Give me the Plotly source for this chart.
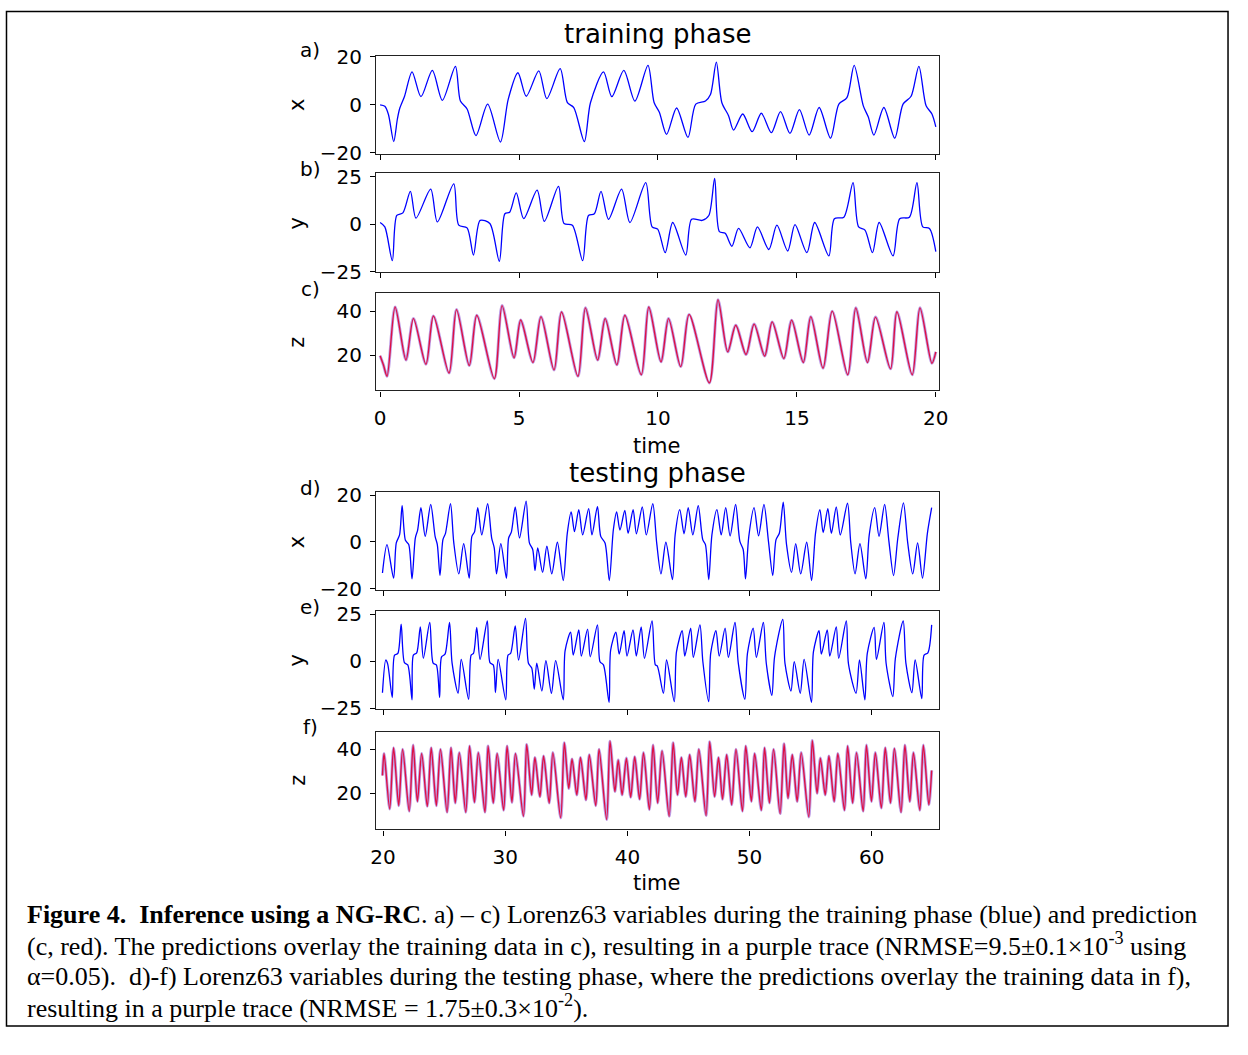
import plotly.graph_objects as go

# ---------------- training phase (t = 0 .. 20) ----------------
train_x_t = [0.0, 0.17, 0.30, 0.49, 0.62, 0.70, 0.88, 1.15, 1.47, 1.88, 2.24, 2.71, 2.89, 3.13, 3.45, 3.87,
             4.33, 4.61, 4.96, 5.26, 5.71, 6.0, 6.48, 6.74, 6.97, 7.35, 7.57, 8.04, 8.34, 8.77, 9.17, 9.64,
             9.86, 10.05, 10.31, 10.67, 11.08, 11.36, 11.71, 11.89, 12.10, 12.30, 12.54, 12.72, 13.05, 13.39,
             13.72, 14.08, 14.41, 14.75, 15.09, 15.44, 15.80, 16.21, 16.51, 16.80, 17.06, 17.39, 17.57, 17.77,
             18.13, 18.52, 18.82, 19.11, 19.39, 19.65, 19.86, 20.0]
train_x = [0.0, -0.6, -4.0, -15.3, -6.0, -1.7, 3.6, 13.8, 3.4, 14.4, 1.9, 16.1, 1.6, -1.7, -12.8, 0.3,
           -15.5, 2.3, 13.4, 3.6, 14.2, 2.6, 15.1, 0.9, -1.1, -15.3, 0.9, 13.8, 3.4, 14.4, 1.6, 16.5,
           1.0, -3.1, -12.3, -1.3, -13.6, 0.3, 1.6, 4.3, 17.8, 0.9, -4.5, -10.5, -3.8, -11.2,
           -3.5, -11.6, -2.8, -11.9, -2.0, -12.6, -1.1, -13.9, 0.3, 3.0, 16.5, -0.4, -5.1, -12.6,
           -1.1, -13.9, 0.3, 3.6, 16.1, -0.4, -3.8, -9.2]

train_y_t = [0.0, 0.17, 0.44, 0.60, 0.82, 1.09, 1.29, 1.82, 2.06, 2.65, 2.83, 3.13, 3.36, 3.60, 3.95, 4.29,
             4.49, 4.66, 4.90, 5.17, 5.65, 5.91, 6.42, 6.62, 6.92, 7.29, 7.50, 7.71, 7.95, 8.22, 8.69, 8.99,
             9.56, 9.79, 9.99, 10.26, 10.53, 11.0, 11.21, 11.59, 11.83, 12.04, 12.21, 12.42, 12.66, 12.90,
             13.31, 13.58, 13.99, 14.28, 14.67, 14.93, 15.36, 15.64, 16.15, 16.35, 16.69, 17.02, 17.22,
             17.45, 17.72, 17.96, 18.46, 18.70, 19.05, 19.32, 19.53, 19.77, 20.0]
train_y = [0.9, -1.4, -19.2, 4.6, 6.0, 17.3, 3.2, 18.5, 1.2, 21.3, -0.5, -1.9, -16.2, 2.0, 0.4, -19.5,
           5.5, 6.3, 16.5, 2.9, 17.9, 1.5, 19.9, 0.4, -0.5, -19.2, 4.6, 5.5, 17.3, 2.6, 18.5, 0.9,
           21.9, -1.4, -2.6, -15.0, 0.9, -16.2, 2.6, 2.0, 4.6, 24.1, -3.9, -4.8, -11.6, -2.2,
           -12.4, -1.4, -13.3, -0.5, -14.1, -0.2, -15.0, 0.9, -16.7, 2.9, 3.7, 21.9, -1.4,
           -3.1, -15.0, 0.9, -16.7, 2.9, 3.7, 21.9, -1.4, -2.2, -14.4]

train_z_t = [0.0, 0.12, 0.25, 0.54, 0.93, 1.20, 1.65, 1.92, 2.48, 2.75, 3.21, 3.48, 4.11, 4.39, 4.82, 5.06,
             5.50, 5.79, 6.26, 6.53, 7.12, 7.39, 7.83, 8.10, 8.52, 8.81, 9.40, 9.67, 10.11, 10.38, 10.82,
             11.12, 11.85, 12.16, 12.51, 12.80, 13.17, 13.46, 13.84, 14.11, 14.53, 14.81, 15.23, 15.50,
             15.94, 16.27, 16.83, 17.12, 17.54, 17.83, 18.37, 18.60, 19.15, 19.43, 19.86, 20.0]
train_z = [19.7, 15.5, 10.4, 41.9, 17.8, 36.6, 15.9, 37.8, 11.9, 40.7, 15.3, 38.1, 9.3, 42.5, 18.8, 36.0,
           16.7, 37.5, 13.3, 39.6, 10.4, 41.5, 17.8, 36.6, 15.6, 38.1, 11.1, 41.9, 17.0, 36.6, 14.8,
           38.5, 7.4, 45.2, 21.5, 33.6, 20.3, 34.1, 19.6, 35.1, 18.5, 35.9, 16.7, 37.5,
           14.1, 40.0, 11.1, 41.5, 16.7, 37.3, 13.8, 39.7, 11.1, 41.5, 16.3, 21.5]

# ---------------- testing phase (t = 20 .. 65) ----------------
test_x_t = [19.95, 20.32, 20.86, 21.08, 21.35, 21.56, 21.83, 22.1, 22.37, 22.64, 22.83, 23.1, 23.45, 23.9,
            24.26, 24.44, 24.66, 24.9, 25.11, 25.52, 25.79, 26.2, 26.6, 27.05, 27.27, 27.49, 27.75, 28.08,
            28.56, 28.89, 29.1, 29.29, 29.64, 30.1, 30.28, 30.5, 30.82, 31.17, 31.71, 31.98, 32.25, 32.44,
            32.66, 33.06, 33.41, 33.81, 34.27, 34.75, 35.08, 35.4, 35.67, 36.02, 36.34, 36.83, 37.1, 37.55,
            37.82, 38.17, 38.52, 38.85, 39.12, 39.39, 39.79, 40.06, 40.47, 40.74, 41.22, 41.55, 42.08,
            42.4, 42.75, 43.15, 43.69, 43.91, 44.29, 44.64, 44.98, 45.36, 45.8, 46.17, 46.39, 46.66,
            46.92, 47.33, 47.68, 48.05, 48.41, 48.86, 49.21, 49.48, 49.67, 49.94, 50.37, 50.74, 51.18,
            51.55, 51.9, 52.17, 52.44, 52.76, 53.03, 53.44, 53.78, 54.19, 54.68, 55.08, 55.4, 55.76,
            56.03, 56.41, 56.7, 57.1, 57.43, 58.02, 58.29, 58.64, 59.04, 59.52, 59.8, 60.25, 60.6, 61.06,
            61.41, 61.79, 62.14, 62.6, 62.95, 63.36, 63.76, 64.16, 64.56, 64.91]
test_x = [-13.2, -1.1, -15.4, -0.4, 3.0, 15.5, 0.7, -1.1, -15.7, 1.7, 5.1, 14.6, 2.4, 16.0,
          2.4, -1.1, -14.3, 1.0, 3.7, 16.3, -0.4, -13.6, -0.7, -15.4, 2.4, 4.4, 14.6, 3.0,
          16.3, 1.7, -2.5, -13.6, -0.7, -15.4, 1.7, 4.2, 14.9, 1.7, 17.4, -0.4, -3.2, -12.2,
          -2.5, -12.9, -1.8, -13.6, -0.1, -16.4, 3.7, 12.8, 4.4, 13.8, 3.0, 14.2, 3.0, 15.1,
          2.4, -0.4, -16.4, 5.1, 12.8, 5.1, 13.5, 3.7, 13.8, 3.5, 14.9, 3.0, 16.3,
          -0.4, -13.6, -0.1, -16.0, 3.0, 13.8, 3.5, 14.6, 3.0, 15.5, 1.0, -1.1, -16.0,
          3.0, 13.8, 3.0, 14.6, 2.6, 16.0, 0.3, -3.2, -15.7, 2.4, 14.6, 2.6, 16.0,
          0.3, -14.3, 1.0, 3.7, 17.0, -1.1, -12.9, -0.7, -13.6, -0.1, -16.4, 3.7, 13.8,
          4.0, 14.2, 3.7, 14.9, 3.0, 16.5, -0.4, -13.6, -0.7, -15.7, 3.0, 14.6, 2.4, 16.0,
          0.3, -14.3, 1.7, 16.7, -0.4, -13.6, -0.4, -15.4, 3.7, 14.6]

test_y_t = [19.95, 20.22, 20.38, 20.75, 20.94, 21.21, 21.48, 21.75, 22.02, 22.37, 22.48, 22.75, 23.05, 23.3,
            23.82, 24.1, 24.36, 24.63, 24.79, 25.07, 25.44, 25.65, 26.14, 26.4, 27.0, 27.21, 27.4, 27.67,
            27.94, 28.53, 28.75, 29.02, 29.2, 29.42, 30.04, 30.23, 30.44, 30.82, 31.09, 31.66, 31.9,
            32.17, 32.38, 32.58, 33.0, 33.33, 33.78, 34.13, 34.75, 34.9, 35.35, 35.57, 36.02, 36.23,
            36.74, 36.96, 37.55, 37.76, 38.04, 38.5, 38.63, 39.06, 39.33, 39.73, 39.97, 40.46, 40.73,
            41.13, 41.4, 42.02, 42.29, 42.45, 42.95, 43.21, 43.84, 44.02, 44.49, 44.7, 45.18, 45.4,
            45.94, 46.18, 46.66, 46.82, 47.25, 47.52, 48.0, 48.27, 48.81, 49.08, 49.62, 49.83, 50.3,
            50.56, 51.13, 51.37, 51.83, 52.05, 52.72, 52.9, 53.39, 53.66, 54.15, 54.47, 55.07, 55.23,
            55.69, 55.88, 56.36, 56.57, 57.1, 57.3, 57.92, 58.1, 58.72, 59.0, 59.44, 59.64, 60.2, 60.39,
            61.0, 61.18, 61.73, 61.94, 62.58, 62.8, 63.29, 63.56, 64.1, 64.29, 64.6, 64.91]
test_y = [-16.7, 0.7, -1.5, -19.3, 3.3, 4.2, 19.8, -0.7, -1.9, -20.5, 3.3, 4.5, 18.4, 1.6,
          20.7, -1.0, -1.9, -19.3, 2.4, 3.8, 20.7, -1.0, -17.0, 1.0, -20.2, 3.3, 4.2, 18.1,
          1.0, 21.5, -0.7, -1.9, -16.7, 1.0, -20.5, 3.3, 4.2, 18.9, 0.7, 22.9, -1.0,
          -3.6, -14.9, -1.0, -15.8, 0.4, -17.0, 0.4, -20.5, 5.6, 15.5, 3.3, 16.7, 2.8,
          17.2, 2.4, 19.4, -0.2, -1.9, -21.9, 5.9, 15.5, 3.8, 16.3, 2.8, 16.7, 2.8,
          18.4, 1.6, 21.5, -1.9, -2.5, -17.0, 0.7, -21.5, 5.0, 16.3, 2.8, 17.7, 2.1,
          19.4, -0.2, -21.5, 4.2, 16.3, 2.8, 17.7, 2.1, 20.7, -1.0, -20.2, 4.2, 17.7,
          2.1, 20.7, -1.0, -18.1, 2.4, 22.4, -1.0, -15.8, -0.2, -17.0, 1.0, -21.9, 5.0,
          16.3, 3.8, 16.7, 2.8, 18.4, 1.6, 21.5, -1.4, -17.0, 0.7, -20.5, 4.2, 18.1, 1.0,
          20.7, -1.0, -18.8, 1.6, 21.5, -1.0, -16.7, 0.7, -19.8, 3.3, 4.5, 19.4]

test_z_t = [19.95, 20.08, 20.54, 20.86, 21.28, 21.6, 22.14, 22.46, 22.81, 23.16, 23.62, 23.94, 24.36, 24.7,
            25.24, 25.56, 25.91, 26.24, 26.77, 27.08, 27.48, 27.8, 28.34, 28.6, 29.02, 29.34, 29.87, 30.15,
            30.55, 30.84, 31.49, 31.76, 32.16, 32.43, 32.84, 33.14, 33.6, 33.9, 34.54, 34.84, 35.2, 35.47,
            35.86, 36.16, 36.61, 36.88, 37.41, 37.68, 38.3, 38.58, 38.98, 39.25, 39.57, 39.92, 40.27,
            40.6, 41.0, 41.32, 41.8, 42.1, 42.48, 42.84, 43.42, 43.75, 44.1, 44.42, 44.78, 45.1, 45.53,
            45.85, 46.44, 46.74, 47.14, 47.46, 47.79, 48.13, 48.54, 48.89, 49.42, 49.69, 50.15, 50.42,
            50.96, 51.23, 51.63, 51.97, 52.5, 52.83, 53.15, 53.5, 53.9, 54.23, 54.85, 55.14, 55.53, 55.8,
            56.2, 56.5, 56.93, 57.23, 57.77, 58.03, 58.44, 58.76, 59.3, 59.57, 59.98, 60.3, 60.79, 61.11,
            61.54, 61.86, 62.4, 62.72, 63.12, 63.42, 63.94, 64.23, 64.68, 64.91]
test_z = [28.1, 38.1, 12.9, 40.7, 14.4, 40.0, 11.9, 41.9, 16.3, 38.1, 14.1, 40.7, 14.4, 40.0,
          11.4, 40.7, 15.6, 38.5, 11.4, 41.5, 15.9, 38.5, 11.4, 41.5, 15.6, 38.1, 12.3, 41.5,
          15.9, 38.1, 9.6, 42.2, 19.3, 36.3, 18.5, 37.0, 15.6, 38.5, 8.9, 43.0, 22.2, 35.6,
          19.3, 36.3, 17.0, 37.5, 14.4, 40.0, 8.1, 43.7, 20.8, 35.1, 19.3, 36.0, 18.2,
          36.6, 17.3, 38.5, 12.6, 41.9, 15.6, 39.3, 9.6, 43.0, 19.3, 36.3, 18.5, 37.5, 16.3,
          40.0, 9.9, 43.4, 18.5, 36.3, 17.3, 37.5, 14.8, 40.0, 11.9, 41.5, 16.3, 38.1,
          12.3, 40.7, 15.6, 40.0, 10.8, 42.5, 17.8, 37.5, 16.3, 38.5, 9.3, 44.0, 20.0, 36.0,
          19.3, 37.0, 16.3, 38.1, 12.3, 41.5, 15.6, 38.5, 11.9, 41.9, 16.3, 38.5, 13.3, 40.7,
          15.6, 40.4, 11.4, 41.9, 16.3, 38.5, 12.3, 41.9, 14.8, 30.4]

# axis ticks
train_ticks = [0, 5, 10, 15, 20]
test_ticks = [20, 30, 40, 50, 60]
xy_ticks_20 = [-20, 0, 20]
xy_ticks_25 = [-25, 0, 25]
z_ticks = [20, 40]

# The page body keeps its default 8px margin, so the figure is sized to fit
# inside the window and every page position is converted to paper units.
OX, OY = 8, 8
FW, FH = 1240, 1039


def pxx(p):
    return (p - OX) / FW


def pxy(p):
    return 1 - (p - OY) / FH


BLUE = "#0000ff"
TICKFONT = dict(family="DejaVu Sans", size=20, color="black")


def label_of(v):
    return ("\u2212" + str(-v)) if v < 0 else str(v)


X_DOM = [pxx(383), pxx(953)]

# (pixel top, pixel bottom, x-range, x-ticks, show x labels, y-range, y-ticks)
panels = [
    (54, 154, [-0.142, 20.107], train_ticks, False, [-20.4, 20.4], xy_ticks_20),
    (174, 275, [-0.142, 20.107], train_ticks, False, [-25.2, 26.8], xy_ticks_25),
    (296, 396, [-0.142, 20.107], train_ticks, True, [4.0, 48.4], z_ticks),
    (500, 600, [19.434, 65.495], test_ticks, False, [-20.4, 21.25], xy_ticks_20),
    (622, 722, [19.434, 65.495], test_ticks, False, [-25.5, 26.6], xy_ticks_25),
    (745, 845, [19.434, 65.495], test_ticks, True, [3.6, 48.0], z_ticks),
]

fig = go.Figure()

series = [
    (train_x_t, train_x, False),
    (train_y_t, train_y, False),
    (train_z_t, train_z, True),
    (test_x_t, test_x, False),
    (test_y_t, test_y, False),
    (test_z_t, test_z, True),
]

for i, (tt, vv, overlay) in enumerate(series, start=1):
    xa = "x" if i == 1 else f"x{i}"
    ya = "y" if i == 1 else f"y{i}"
    if overlay:
        # training data underneath, prediction on top -> purple trace
        fig.add_trace(go.Scatter(x=tt, y=vv, mode="lines", xaxis=xa, yaxis=ya,
                                 line=dict(color="rgba(110,40,200,0.45)", width=3.0, shape="spline", smoothing=0.8),
                                 showlegend=False, hoverinfo="skip"))
        fig.add_trace(go.Scatter(x=tt, y=vv, mode="lines", xaxis=xa, yaxis=ya,
                                 line=dict(color="rgba(225,0,50,0.9)", width=1.4, shape="spline", smoothing=0.8),
                                 showlegend=False, hoverinfo="skip"))
    else:
        fig.add_trace(go.Scatter(x=tt, y=vv, mode="lines", xaxis=xa, yaxis=ya,
                                 line=dict(color=BLUE, width=1.3, shape="spline", smoothing=0.8),
                                 showlegend=False, hoverinfo="skip"))

layout = dict(
    width=FW, height=FH,
    margin=dict(l=0, r=0, t=0, b=0),
    paper_bgcolor="white", plot_bgcolor="white",
    showlegend=False,
)

for i, (top, bot, xr, xt, xlab, yr, yt) in enumerate(panels, start=1):
    sx = "" if i == 1 else str(i)
    layout["xaxis" + sx] = dict(
        domain=X_DOM, anchor="y" + sx, range=xr,
        tickmode="array", tickvals=xt, ticktext=[label_of(v) for v in xt],
        showticklabels=xlab, ticks="outside", ticklen=5, tickwidth=1.2, tickcolor="black",
        showline=True, linecolor="#222", linewidth=1.4, mirror=True,
        showgrid=False, zeroline=False, tickfont=TICKFONT, ticklabelstandoff=4,
    )
    layout["yaxis" + sx] = dict(
        domain=[pxy(bot), pxy(top)], anchor="x" + sx, range=yr,
        tickmode="array", tickvals=yt, ticktext=[label_of(v) for v in yt],
        ticks="outside", ticklen=5, tickwidth=1.2, tickcolor="black",
        showline=True, linecolor="#222", linewidth=1.4, mirror=True,
        showgrid=False, zeroline=False, tickfont=TICKFONT, ticklabelstandoff=4,
    )

fig.update_layout(**layout)

ann = []


def text_at(x, y, s, size=20, angle=0, xanchor="center", family="DejaVu Sans"):
    ann.append(dict(x=pxx(x), y=pxy(y), xref="paper", yref="paper", text=s, showarrow=False,
                    xanchor=xanchor, yanchor="middle", textangle=angle,
                    font=dict(family=family, size=size, color="black")))


text_at(668, 32, "training phase", size=26)
text_at(668, 480, "testing phase", size=26)
text_at(667, 453, "time", size=21)
text_at(667, 900, "time", size=21)

for lab, ly in [("a)", 48), ("b)", 170), ("c)", 292), ("d)", 496), ("e)", 618), ("f)", 740)]:
    text_at(316, ly, lab)

for lab, ly in [("x", 104), ("y", 225), ("z", 347), ("x", 551), ("y", 672), ("z", 795)]:
    text_at(303, ly, lab, size=21, angle=-90)

caption = [
    "<b>Figure 4.  Inference using a NG-RC</b>. a) \u2013 c) Lorenz63 variables during the training phase (blue) and prediction",
    "(c, red). The predictions overlay the training data in c), resulting in a purple trace (NRMSE=9.5\u00b10.1\u00d710<sup>-3</sup> using",
    "\u03b1=0.05).  d)-f) Lorenz63 variables during the testing phase, where the predictions overlay the training data in f),",
    "resulting in a purple trace (NRMSE = 1.75\u00b10.3\u00d710<sup>-2</sup>).",
]
for line, cy in zip(caption, [932, 963, 995, 1026]):
    text_at(27, cy, line, size=26, xanchor="left", family="Liberation Serif")

fig.update_layout(annotations=ann)

# frame around the whole figure
fig.add_shape(type="rect", xref="paper", yref="paper",
              x0=pxx(8.5), x1=pxx(1246), y0=pxy(1046), y1=pxy(8.5),
              line=dict(color="black", width=1.5), fillcolor="rgba(0,0,0,0)")

fig.write_html("out.html")
